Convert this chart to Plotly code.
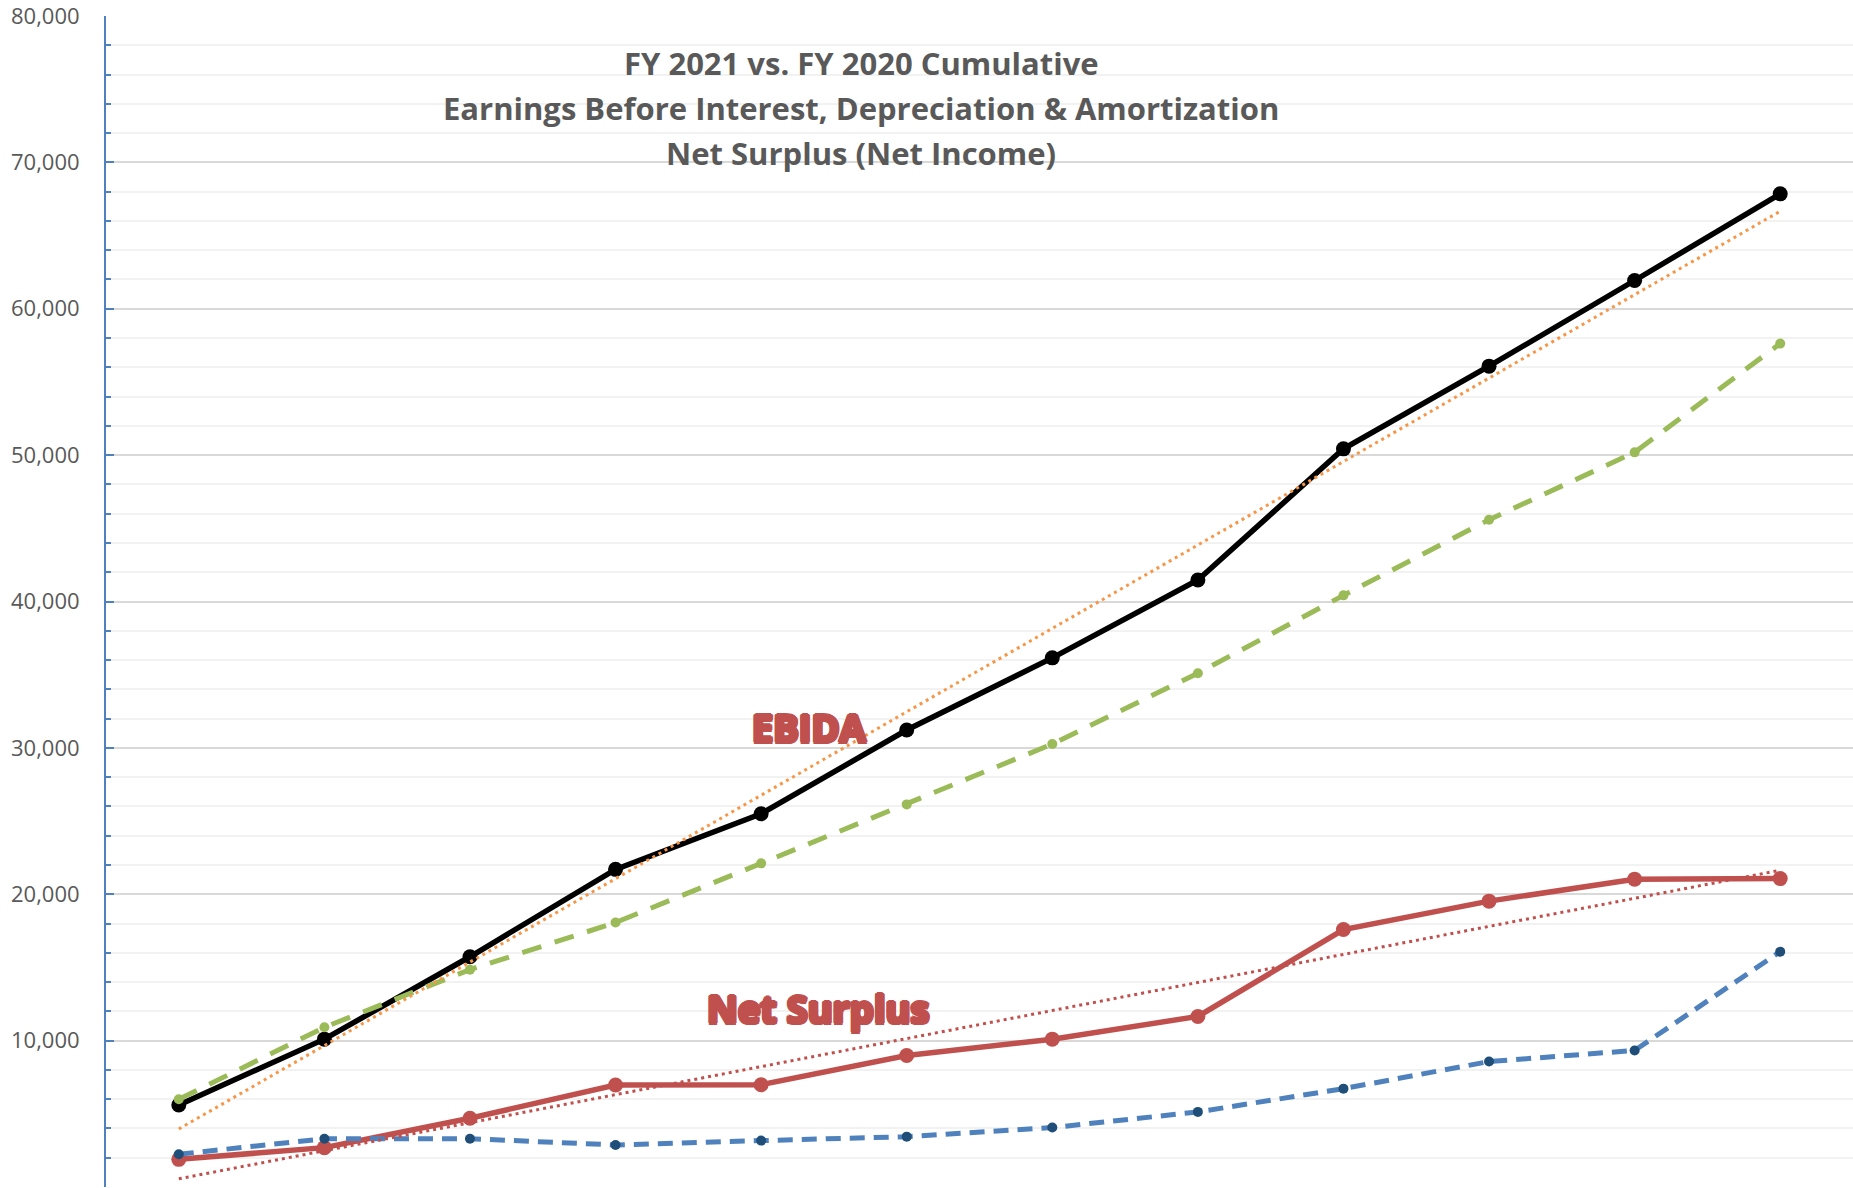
import numpy as np
import plotly.graph_objects as go

# ---- data ----
months = ["Jul", "Aug", "Sep", "Oct", "Nov", "Dec", "Jan", "Feb", "Mar", "Apr", "May", "Jun"]
ebida_fy2021 = [5600, 10100, 15730, 21700, 25500, 31220, 36150, 41470, 50430, 56080, 61930, 67850]
ebida_fy2020 = [5990, 10910, 14850, 18070, 22110, 26140, 30260, 35100, 40420, 45590, 50190, 57620]
net_fy2021 = [1890, 2690, 4700, 6970, 6990, 8980, 10100, 11650, 17590, 19530, 21030, 21070]
net_fy2020 = [2240, 3300, 3300, 2870, 3170, 3440, 4060, 5130, 6720, 8570, 9330, 16080]

title_lines = [
    "FY 2021 vs. FY 2020 Cumulative",
    "Earnings Before Interest, Depreciation & Amortization",
    "Net Surplus (Net Income)",
]
y_tickvals = [0, 10000, 20000, 30000, 40000, 50000, 60000, 70000, 80000]
y_ticktext = ["-    ", "10,000", "20,000", "30,000", "40,000", "50,000", "60,000", "70,000", "80,000"]

# ---- colours ----
BLACK = "#000000"
RED = "#C0504D"
GREEN = "#9BBB59"
BLUE = "#4F81BD"
NAVY = "#1F4E79"
ORANGE = "#F79646"
GRAY_TXT = "#595959"

xi = np.arange(len(months))


def linear_trend(values):
    slope, intercept = np.polyfit(xi, np.asarray(values, dtype=float), 1)
    return list(intercept + slope * xi)


fig = go.Figure()

fig.add_trace(go.Scatter(x=months, y=net_fy2021, mode="lines+markers",
                         line=dict(color=RED, width=5.5),
                         marker=dict(color=RED, size=15), name="Net Surplus FY 2021"))
fig.add_trace(go.Scatter(x=months, y=ebida_fy2021, mode="lines+markers",
                         line=dict(color=BLACK, width=5.5),
                         marker=dict(color=BLACK, size=15), name="EBIDA FY 2021"))
fig.add_trace(go.Scatter(x=months, y=net_fy2020, mode="lines+markers",
                         line=dict(color=BLUE, width=5, dash="15px,9px"),
                         marker=dict(color=NAVY, size=10), name="Net Surplus FY 2020"))
fig.add_trace(go.Scatter(x=months, y=ebida_fy2020, mode="lines+markers",
                         line=dict(color=GREEN, width=5, dash="20px,14px"),
                         marker=dict(color=GREEN, size=10), name="EBIDA FY 2020"))
fig.add_trace(go.Scatter(x=months, y=linear_trend(ebida_fy2021), mode="lines",
                         line=dict(color=ORANGE, width=3, dash="3px,4px"),
                         name="Linear (EBIDA FY 2021)"))
fig.add_trace(go.Scatter(x=months, y=linear_trend(net_fy2021), mode="lines",
                         line=dict(color=RED, width=3, dash="3px,4px"),
                         name="Linear (Net Surplus FY 2021)"))

# title lines
for i, (txt, ypx) in enumerate(zip(title_lines, [62.6, 107.5, 152.5])):
    fig.add_annotation(text="<b>" + txt + "</b>", xref="paper", yref="paper",
                       x=(861 - 106) / 1747, y=(1187 - ypx) / 1171,
                       xanchor="center", yanchor="middle", showarrow=False,
                       font=dict(family="Open Sans", size=31, color=GRAY_TXT))

outline = ("2px 0 0 %s, -2px 0 0 %s, 0 2px 0 %s, 0 -2px 0 %s, "
           "1.5px 1.5px 0 %s, -1.5px -1.5px 0 %s, 1.5px -1.5px 0 %s, -1.5px 1.5px 0 %s"
           % ((RED,) * 8))
fig.add_annotation(text="<b>EBIDA</b>", x=4.33, y=31440, xref="x", yref="y",
                   showarrow=False, xanchor="center", yanchor="middle",
                   font=dict(family="Open Sans", size=38, color=RED, shadow=outline))
fig.add_annotation(text="<b>Net Surplus</b>", x=4.39, y=12235, xref="x", yref="y",
                   showarrow=False, xanchor="center", yanchor="middle",
                   font=dict(family="Open Sans", size=38, color=RED, shadow=outline))

fig.update_layout(
    width=1853, height=1188,
    margin=dict(l=106, r=0, t=16, b=1, autoexpand=False),
    paper_bgcolor="white", plot_bgcolor="white",
    showlegend=False,
    font=dict(family="Open Sans", color=GRAY_TXT),
)
fig.update_xaxes(type="category", range=[-0.5, 11.5], showticklabels=False,
                 showgrid=False, zeroline=False, showline=False, ticks="",
                 automargin=False)
fig.update_yaxes(range=[0, 80000], tickvals=y_tickvals, ticktext=y_ticktext,
                 tickfont=dict(family="Open Sans", size=22, color=GRAY_TXT),
                 automargin=False, ticklabeloverflow="allow",
                 showgrid=True, gridcolor="#D9D9D9", gridwidth=1.5,
                 zeroline=False, showline=True, linecolor=BLUE, linewidth=2,
                 ticks="inside", ticklen=8, tickcolor=BLUE, tickwidth=2,
                 ticklabelstandoff=20,
                 minor=dict(dtick=2000, showgrid=True, gridcolor="#F2F2F2", gridwidth=1.5,
                            ticks="inside", ticklen=5, tickcolor=BLUE, tickwidth=2))

fig.write_html("out.html",
               config={"displayModeBar": False},
               post_script="document.body.style.margin='0';document.body.style.overflow='hidden';")
